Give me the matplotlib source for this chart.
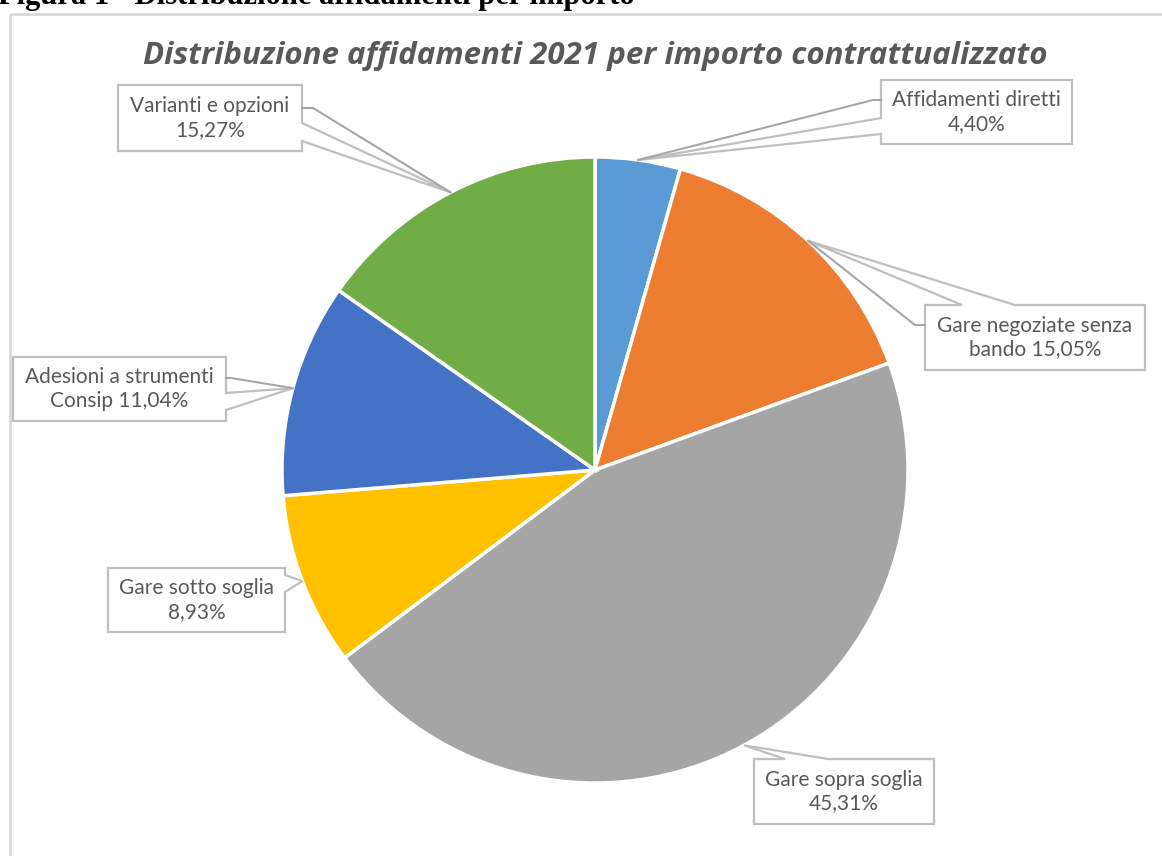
import numpy as np
import matplotlib
matplotlib.use('Agg')
import matplotlib.pyplot as plt
from matplotlib.patches import Polygon, Rectangle

# --- data ---
categories = ['Affidamenti diretti', 'Gare negoziate senza bando', 'Gare sopra soglia',
              'Gare sotto soglia', 'Adesioni a strumenti Consip', 'Varianti e opzioni']
shares = [4.40, 15.05, 45.31, 8.93, 11.04, 15.27]
label_heads = ['Affidamenti diretti\n', 'Gare negoziate senza\nbando ', 'Gare sopra soglia\n',
               'Gare sotto soglia\n', 'Adesioni a strumenti\nConsip ', 'Varianti e opzioni\n']
colors = ['#5B9BD5', '#ED7D31', '#A5A5A5', '#FFC000', '#4472C4', '#70AD47']

title = 'Distribuzione affidamenti 2021 per importo contrattualizzato'
header = 'Figura 1 - Distribuzione affidamenti per importo'

# callout layout in pixels: box (x0, y0, x1, y1), notch side, notch range, leader point
callouts = [
    dict(box=(881, 80, 1072, 144), side='left', notch=(118, 134), leader=(100, 8)),
    dict(box=(925, 305, 1145, 370), side='top', notch=(962, 1015), leader=('left', 325, 10)),
    dict(box=(754, 759, 934, 824), side='top', notch=(785, 828), leader=None),
    dict(box=(108, 568, 285, 632), side='right', notch=(575, 592), leader=None),
    dict(box=(13, 357, 226, 421), side='right', notch=(393, 410), leader=(378, 5)),
    dict(box=(118, 85, 302, 151), side='right', notch=(123, 141), leader=(108, 11)),
]

W, H = 1162, 856
fig = plt.figure(figsize=(W / 100, H / 100), dpi=100)
ax = fig.add_axes([0, 0, 1, 1])

cx, cy, R = 595, 470, 313
# y axis is inverted (pixel style), so counterclock=True draws clockwise on screen
wedges, _ = ax.pie(shares, colors=colors, startangle=-90, counterclock=True,
                   center=(cx, cy), radius=R,
                   wedgeprops=dict(edgecolor='white', linewidth=2.5))

ax.set_xlim(0, W)
ax.set_ylim(H, 0)
ax.set_aspect('equal')
ax.axis('off')

# outer frame
ax.add_patch(Rectangle((10, 14), 1300, 1000, fill=False, edgecolor='#D9D9D9', lw=2))

# header (cut at top of picture) and title
ax.text(-2, 4, header, fontsize=22, fontweight='bold', family='Liberation Serif',
        ha='left', va='baseline', color='black')
ax.text(595, 56, title, fontsize=22.5, fontweight='bold', style='italic',
        family=['Open Sans', 'DejaVu Sans'], color='#595959', ha='center', va='center')

box_col = '#BFBFBF'
lead_col = '#A6A6A6'

for w, c, head, val in zip(wedges, callouts, label_heads, shares):
    mid = np.deg2rad((w.theta1 + w.theta2) / 2)
    tip = (cx + R * np.cos(mid), cy + R * np.sin(mid))
    x0, y0, x1, y1 = c['box']
    a, b = c['notch']
    if c['side'] == 'left':
        pts = [(x0, y0), (x1, y0), (x1, y1), (x0, y1), (x0, b), tip, (x0, a)]
    elif c['side'] == 'right':
        pts = [(x0, y0), (x1, y0), (x1, a), tip, (x1, b), (x1, y1), (x0, y1)]
    else:  # top
        pts = [(x0, y0), (a, y0), tip, (b, y0), (x1, y0), (x1, y1), (x0, y1)]
    ax.add_patch(Polygon(pts, closed=True, facecolor='white', edgecolor=box_col,
                         lw=1.6, zorder=5))
    ld = c['leader']
    if ld is not None:
        if ld[0] == 'left':
            ly, stub = ld[1], ld[2]
            ax.plot([x0, x0 - stub, tip[0]], [ly, ly, tip[1]], color=lead_col, lw=1.5, zorder=6)
        elif c['side'] == 'right':
            ly, stub = ld
            ax.plot([x1, x1 + stub, tip[0]], [ly, ly, tip[1]], color=lead_col, lw=1.5, zorder=6)
        else:
            ly, stub = ld
            ax.plot([x0, x0 - stub, tip[0]], [ly, ly, tip[1]], color=lead_col, lw=1.5, zorder=6)
    txt = head + ('%.2f%%' % val).replace('.', ',')
    ax.text((x0 + x1) / 2, (y0 + y1) / 2, txt, fontsize=15, color='#595959',
            family=['Lato', 'DejaVu Sans'], ha='center', va='center',
            linespacing=1.25, zorder=7)

fig.savefig('out.png', dpi=100)
